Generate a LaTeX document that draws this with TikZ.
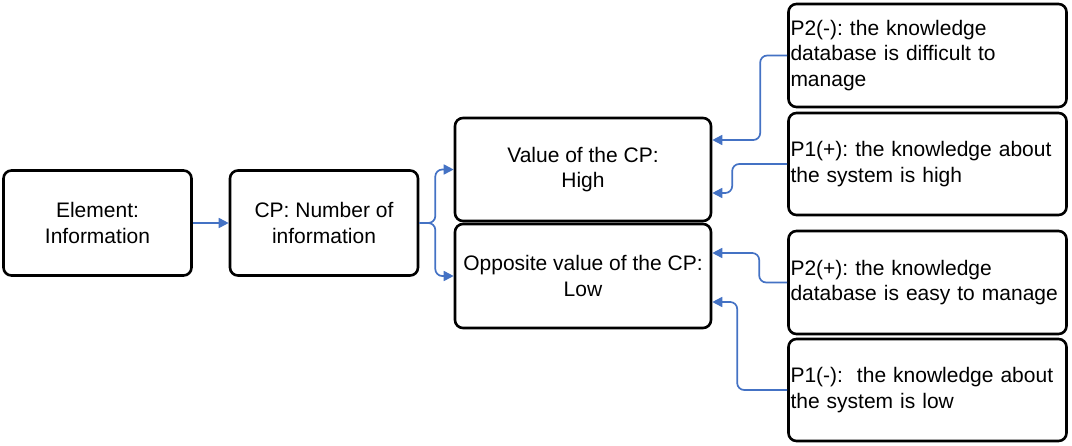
\documentclass[tikz,border=0pt]{standalone}
\usepackage{fontspec}
\setmainfont{Liberation Sans}
\usetikzlibrary{arrows.meta}
\definecolor{arrowblue}{HTML}{4472C4}
\frenchspacing
\begin{document}
\begin{tikzpicture}[x=1pt,y=-1pt,
  box/.style={draw=black, line width=2.6pt, rounded corners=8pt,
    font=\fontsize{21}{25.5}\selectfont\frenchspacing, align=center, inner sep=2pt},
  pbox/.style={box, align=left, text width=274pt, minimum width=278pt},
  conn/.style={draw=arrowblue, line width=1.7pt, rounded corners=7pt,
    -{Triangle[length=10pt,width=10pt]}}]
\useasboundingbox (0,0) rectangle (1072,445);

\node[box, minimum width=188pt, minimum height=105pt] (el) at (97.5,223) {Element:\\Information};
\node[box, minimum width=188pt, minimum height=105pt] (cp) at (324,223) {CP: Number of\\information};
\node[box, minimum width=256pt, minimum height=103pt] (hi) at (583,169.5) {Value of the CP:\\High};
\node[box, minimum width=256pt, minimum height=104pt] (lo) at (583,276) {Opposite value of the CP:\\Low};

\node[pbox, minimum height=103pt] (p2m) at (927.5,55.5) {P2(-): the knowledge\\database is difficult to\\manage};
\node[pbox, minimum height=102pt] (p1p) at (927.5,164) {P1(+): the knowledge about\\the system is high};
\node[pbox, minimum height=103pt] (p2p) at (927.5,282.5) {P2(+): the knowledge\\database is easy to manage};
\node[pbox, minimum height=102pt] (p1m) at (927.5,390) {P1(-):\ \ the knowledge about\\the system is low};

\draw[conn] (el.east) -- (cp.west);
\draw[conn] (cp.east) -- ++(16,0) |- (hi.west);
\draw[conn] (cp.east) -- ++(16,0) |- (lo.west);

\draw[conn] (p2m.west) -- ++(-27,0) |- ([yshift=29.5pt]hi.east);
\draw[conn] (p1p.west) -- ++(-55,0) |- ([yshift=-23.5pt]hi.east);
\draw[conn] (p2p.west) -- ++(-28,0) |- ([yshift=23pt]lo.east);
\draw[conn] (p1m.west) -- ++(-50,0) |- ([yshift=-26pt]lo.east);
\end{tikzpicture}
\end{document}
